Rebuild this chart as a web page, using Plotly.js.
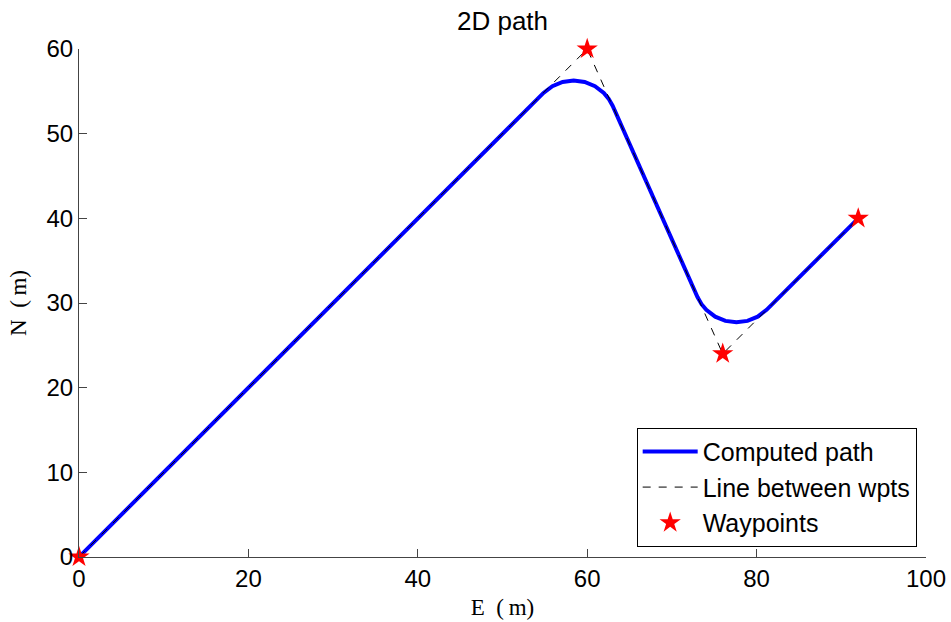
<!DOCTYPE html>
<html>
<head>
<meta charset="utf-8">
<script src="https://cdn.plot.ly/plotly-3.0.1.min.js"></script>
<style>html,body{margin:0;padding:0;background:#fff;}#plot{width:951px;height:622px;}</style>
</head>
<body>
<div id="plot"></div>
<script>
// Waypoints (E, N)
const wptE = [0, 60, 76, 92];
const wptN = [0, 60, 24, 40];

// Computed path (straight legs joined by rounded turns)
const pathE = [0, 54.84, 55.89, 57.10, 58.40, 59.70, 60.92, 61.96, 62.52, 63.00,
               73.02, 73.50, 74.06, 75.11, 76.32, 77.62, 78.92, 80.13, 81.18, 92];
const pathN = [0, 54.81, 55.61, 56.11, 56.28, 56.11, 55.61, 54.81, 54.14, 53.30,
               30.70, 29.86, 29.19, 28.39, 27.89, 27.72, 27.89, 28.39, 29.19, 40];

const xTicks = [0, 20, 40, 60, 80, 100];
const yTicks = [0, 10, 20, 30, 40, 50, 60];

const traces = [
  {x: pathE, y: pathN, mode: 'lines', name: 'Computed path',
   line: {color: '#0000ff', width: 4}},
  {x: wptE, y: wptN, mode: 'lines', name: 'Line between wpts',
   line: {color: '#000000', width: 1, dash: '8px,8px'}},
  {x: wptE, y: wptN, mode: 'markers', name: 'Waypoints',
   marker: {symbol: 'star', color: '#ff0000', size: 16, line: {width: 0}}, cliponaxis: false}
];

const sans = 'Liberation Sans, Arial, sans-serif';
const serif = 'Liberation Serif, DejaVu Serif, serif';

const axisCommon = {
  showgrid: false, zeroline: false, showline: true, linecolor: '#444', linewidth: 1,
  ticks: 'inside', ticklen: 8, tickcolor: '#444', tickwidth: 1,
  tickfont: {family: sans, size: 24, color: '#000'},
  mirror: false
};

const layout = {
  width: 951, height: 622,
  margin: {l: 79, r: 25, t: 49, b: 65},
  paper_bgcolor: '#fff', plot_bgcolor: '#fff',
  title: {text: '2D path', font: {family: sans, size: 26, color: '#000'},
          x: 0.5284, xanchor: 'center', y: 0.967, yanchor: 'middle'},
  xaxis: Object.assign({}, axisCommon, {
    range: [0, 100], tickvals: xTicks, ticktext: xTicks.map(String),
    title: {text: 'E\u2002(\u2009m)', standoff: 8, font: {family: serif, size: 23, color: '#000'}}
  }),
  yaxis: Object.assign({}, axisCommon, {
    range: [0, 60], tickvals: yTicks, ticktext: yTicks.map(String),
    title: {text: 'N\u2002(\u2009m)', standoff: 13, font: {family: serif, size: 23, color: '#000'}}
  }),
  showlegend: true,
  legend: {
    x: 0.989, xanchor: 'right', y: 0.02, yanchor: 'bottom',
    bgcolor: '#fff', bordercolor: '#000', borderwidth: 1,
    font: {family: sans, size: 25, color: '#000'},
    itemwidth: 55, tracegroupgap: 0, entrywidth: 290, entrywidthmode: 'pixels'
  }
};

Plotly.newPlot('plot', traces, layout, {staticPlot: true});
</script>
</body>
</html>
